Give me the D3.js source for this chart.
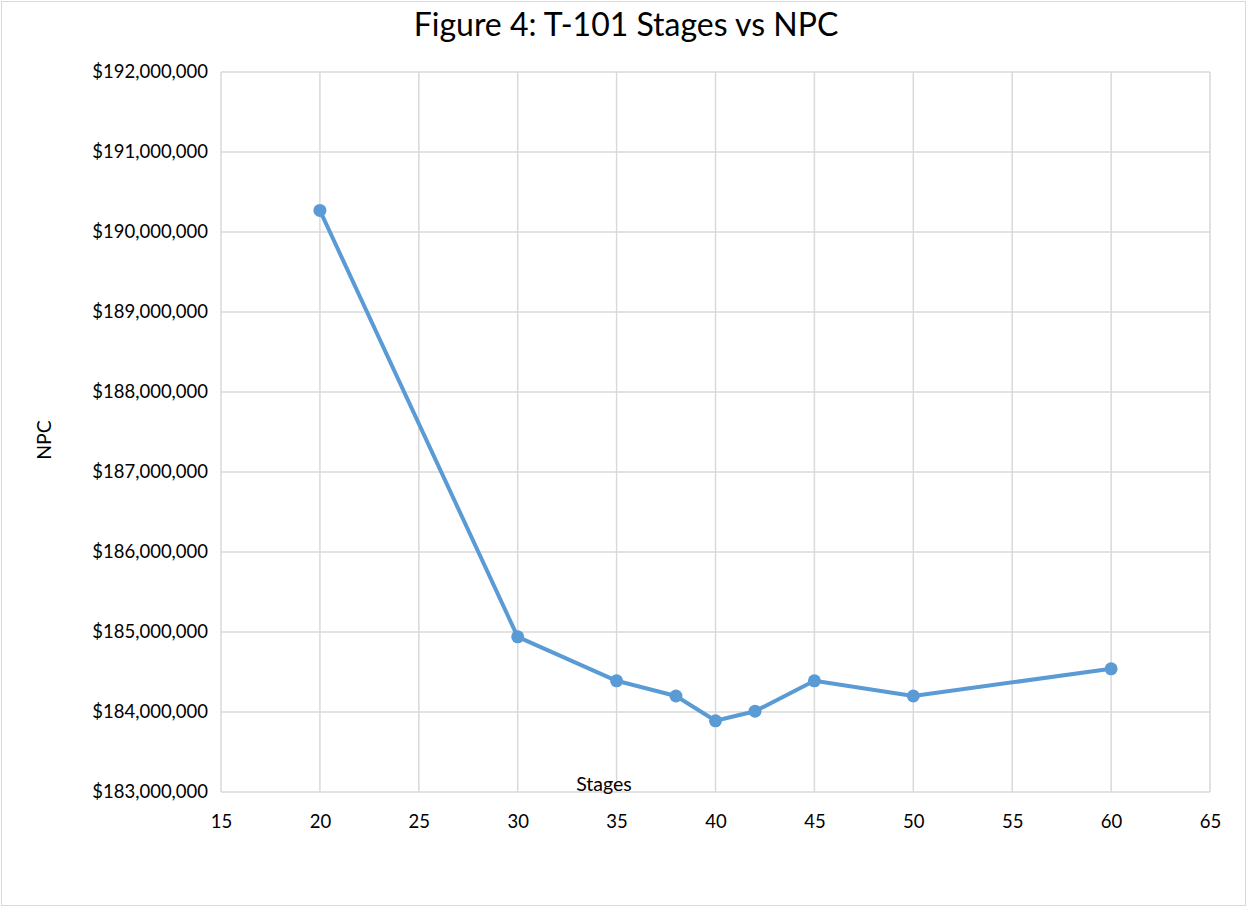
<!DOCTYPE html>
<html><head><meta charset="utf-8">
<script src="https://cdn.jsdelivr.net/npm/d3@7"></script>
<style>body{margin:0;background:#fff}svg{display:block}</style>
</head><body>
<svg id="c" width="1247" height="907"></svg>
<script>
const stages = [20, 30, 35, 38, 40, 42, 45, 50, 60];
const npc = [190270000, 184940000, 184390000, 184200000, 183890000, 184010000, 184390000, 184200000, 184540000];
const xTicks = [15, 20, 25, 30, 35, 40, 45, 50, 55, 60, 65];
const yTicks = [183000000, 184000000, 185000000, 186000000, 187000000, 188000000, 189000000, 190000000, 191000000, 192000000];
const title = "Figure 4: T-101 Stages vs NPC";
const xTitle = "Stages";
const yTitle = "NPC";

const svg = d3.select("#c");
const font = "Lato, 'Open Sans', sans-serif";
svg.append("rect").attr("x",1.5).attr("y",1.5).attr("width",1244).attr("height",904)
  .attr("fill","#fff").attr("stroke","#d9d9d9");

const x = d3.scaleLinear().domain([15,65]).range([221,1210]);
const y = d3.scaleLinear().domain([183000000,192000000]).range([792,72]);

const g = svg.append("g");
g.selectAll("line.v").data(xTicks).join("line")
  .attr("x1",d=>x(d)).attr("x2",d=>x(d)).attr("y1",y(192000000)).attr("y2",y(183000000))
  .attr("stroke","#d9d9d9").attr("stroke-width",1.5);
g.selectAll("line.h").data(yTicks).join("line")
  .attr("x1",x(15)).attr("x2",x(65)).attr("y1",d=>y(d)).attr("y2",d=>y(d))
  .attr("stroke","#d9d9d9").attr("stroke-width",1.5);

const fmt = d => "$" + d3.format(",")(d);
const ya = svg.append("g").attr("transform",`translate(${x(15)},0)`)
  .call(d3.axisLeft(y).tickValues(yTicks).tickFormat(fmt).tickSize(0).tickPadding(13));
ya.select(".domain").remove();
ya.selectAll("text").attr("font-family",font).attr("font-size",18.5).attr("fill","#000");

const xa = svg.append("g").attr("transform",`translate(0,${y(183000000)})`)
  .call(d3.axisBottom(x).tickValues(xTicks).tickFormat(d3.format("d")).tickSize(0).tickPadding(23));
xa.select(".domain").remove();
xa.selectAll("text").attr("font-family",font).attr("font-size",18.5).attr("fill","#000");

const data = stages.map((s,i)=>({s, v:npc[i]}));
svg.append("path").datum(data)
  .attr("fill","none").attr("stroke","#5b9bd5").attr("stroke-width",4).attr("stroke-linejoin","round")
  .attr("d", d3.line().x(d=>x(d.s)).y(d=>y(d.v)));
svg.selectAll("circle.p").data(data).join("circle")
  .attr("cx",d=>x(d.s)).attr("cy",d=>y(d.v)).attr("r",6.5).attr("fill","#5b9bd5");

svg.append("text").attr("x",626).attr("y",36).attr("text-anchor","middle")
  .attr("font-family",font).attr("font-size",32).attr("fill","#000").text(title);
svg.append("text").attr("x",604).attr("y",791).attr("text-anchor","middle")
  .attr("font-family",font).attr("font-size",19.5).attr("fill","#000").text(xTitle);
svg.append("text").attr("transform","translate(51,440) rotate(-90)").attr("text-anchor","middle")
  .attr("font-family",font).attr("font-size",19.5).attr("fill","#000").text(yTitle);
</script>
</body></html>
